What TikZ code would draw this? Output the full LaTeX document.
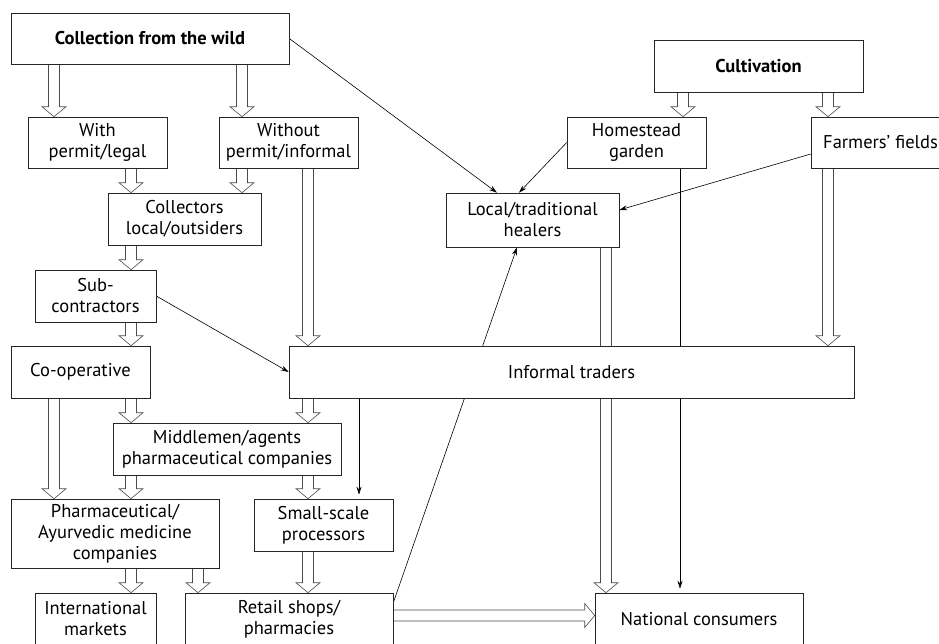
\documentclass[tikz,border=0pt]{standalone}
\usepackage{fontspec}
\setmainfont{PT Sans}
\usetikzlibrary{calc,backgrounds,arrows.meta}

\tikzset{
  box/.style={draw=black!85, fill=white, line width=0.6pt, inner sep=0pt,
    align=center, font=\fontsize{18.5}{21}\selectfont},
  flowline/.style={draw=black!70, fill=white, line width=0.6pt},
  link/.style={draw=black, line width=0.6pt, -{Stealth[length=8pt,width=5pt]}},
}

% hollow block arrow between two points
\newcommand{\flowarrow}[2]{%
  \path (#1) coordinate (fa-s) (#2) coordinate (fa-e);
  \coordinate (fa-b) at ($(fa-e)!10pt!(fa-s)$);
  \draw[flowline] ($(fa-s)!5.5pt!90:(fa-e)$) -- ($(fa-b)!5.5pt!-90:(fa-s)$)
    -- ($(fa-b)!12pt!-90:(fa-s)$) -- (fa-e) -- ($(fa-b)!12pt!90:(fa-s)$)
    -- ($(fa-b)!5.5pt!90:(fa-s)$) -- ($(fa-s)!5.5pt!-90:(fa-e)$);
}

\begin{document}
\begin{tikzpicture}[x=1pt, y=-1pt]
\useasboundingbox (0,0) rectangle (939,643);

% boxes
\node[box, minimum width=278pt, minimum height=51pt] (wild) at (150,38.5) {\textbf{Collection from the wild}};
\node[box, minimum width=209pt, minimum height=52pt] (cult) at (758.5,66) {\textbf{Cultivation}};
\node[box, minimum width=139pt, minimum height=51pt] (with) at (97.5,142.5) {With\\permit/legal};
\node[box, minimum width=139pt, minimum height=51pt] (without) at (288.5,142.5) {Without\\permit/informal};
\node[box, minimum width=139pt, minimum height=51pt] (home) at (636.5,142.5) {Homestead\\garden};
\node[box, minimum width=139pt, minimum height=51pt] (farm) at (880.5,142.5) {Farmers’ fields};
\node[box, minimum width=153pt, minimum height=52pt] (coll) at (184.5,219) {Collectors\\local/outsiders};
\node[box, minimum width=173pt, minimum height=54pt] (heal) at (532.5,220) {Local/traditional\\healers};
\node[box, minimum width=121pt, minimum height=52pt] (sub) at (95.5,296) {Sub-\\contractors};
\node[box, minimum width=139pt, minimum height=52pt] (coop) at (80.5,372) {Co-operative};
\node[box, minimum width=565pt, minimum height=52pt] (inf) at (571.5,372) {Informal traders};
\node[box, minimum width=228pt, minimum height=52pt] (mid) at (227,449) {Middlemen/agents\\pharmaceutical companies};
\node[box, minimum width=208pt, minimum height=69pt] (pharma) at (115,533.5) {Pharmaceutical/\\Ayurvedic medicine\\companies};
\node[box, minimum width=139pt, minimum height=52pt] (small) at (323.5,525) {Small-scale\\processors};
\node[box, minimum width=121pt, minimum height=52pt] (intl) at (95.5,619) {International\\markets};
\node[box, minimum width=208pt, minimum height=52pt] (retail) at (289,619) {Retail shops/\\pharmacies};
\node[box, minimum width=208pt, minimum height=52pt] (nat) at (699,619) {National consumers};

% lanes of the block arrows
\coordinate (l1) at (54,0);
\coordinate (l2) at (131,0);
\coordinate (l3) at (198,0);
\coordinate (l4) at (242,0);
\coordinate (l5) at (308,0);
\coordinate (l6) at (606,0);
\coordinate (l7) at (683,0);
\coordinate (l8) at (828,0);
\coordinate (row) at (0,615.5);
\coordinate (tr) at ([xshift=35.5pt]small.north);

\begin{scope}[on background layer]
\flowarrow{wild.south -| l1}{with.north -| l1}
\flowarrow{wild.south -| l4}{without.north -| l4}
\flowarrow{with.south -| l2}{coll.north -| l2}
\flowarrow{without.south -| l4}{coll.north -| l4}
\flowarrow{coll.south -| l2}{sub.north -| l2}
\flowarrow{without.south -| l5}{inf.north -| l5}
\flowarrow{sub.south -| l2}{coop.north -| l2}
\flowarrow{coop.south -| l1}{pharma.north -| l1}
\flowarrow{coop.south -| l2}{mid.north -| l2}
\flowarrow{inf.south -| l5}{mid.north -| l5}
\flowarrow{mid.south -| l2}{pharma.north -| l2}
\flowarrow{mid.south -| l5}{small.north -| l5}
\flowarrow{pharma.south -| l2}{intl.north -| l2}
\flowarrow{pharma.south -| l3}{retail.north -| l3}
\flowarrow{small.south -| l5}{retail.north -| l5}
\flowarrow{retail.east |- row}{nat.west |- row}
\flowarrow{cult.south -| l7}{home.north -| l7}
\flowarrow{cult.south -| l8}{farm.north -| l8}
\flowarrow{farm.south -| l8}{inf.north -| l8}
\flowarrow{heal.south -| l6}{nat.north -| l6}

\draw[link] (wild.east) -- ([xshift=-35.5pt]heal.north);
\draw[link] (home.west) -- ([xshift=-13.5pt]heal.north);
\draw[link] ([yshift=-11.5pt]farm.west) -- ([yshift=10pt]heal.east);
\draw[link] (sub.east) -- (inf.west);
\draw[link, shorten >=4pt] (tr |- inf.south) -- (tr);
\draw[link] ([yshift=-10pt]retail.north east) -- ([xshift=-15.5pt]heal.south);
\draw[link, shorten >=4pt] ([xshift=43.5pt]home.south) -- ([xshift=43.5pt]home.south |- nat.north);
\end{scope}
\end{tikzpicture}
\end{document}
